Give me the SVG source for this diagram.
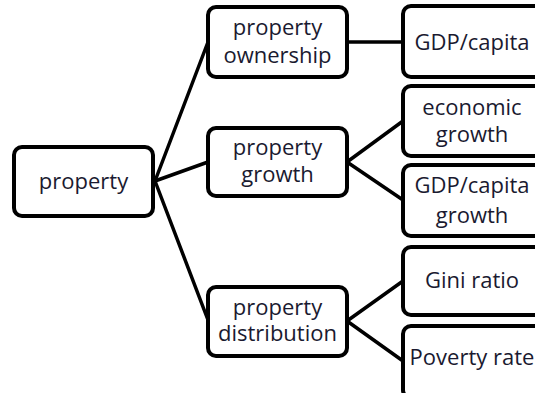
<svg xmlns="http://www.w3.org/2000/svg" width="535" height="393" viewBox="0 0 535 393">
<style>
.box{fill:#ffffff;stroke:#000000;stroke-width:4}
.lbl{font-family:"Open Sans","Liberation Sans",sans-serif;font-size:22px;fill:#1a1a30;text-anchor:middle}
.conn line{stroke:#000000;stroke-width:3.5;stroke-linecap:round}
</style>
<rect width="535" height="393" fill="#ffffff"/>
<g id="connectors" class="conn">
<line x1="155" y1="181" x2="208" y2="42"/>
<line x1="155" y1="181" x2="208" y2="162"/>
<line x1="155" y1="181" x2="208" y2="320"/>
<line x1="347" y1="42" x2="403" y2="42"/>
<line x1="347" y1="162" x2="403" y2="121"/>
<line x1="347" y1="162" x2="403" y2="200"/>
<line x1="347" y1="321" x2="403" y2="281"/>
<line x1="347" y1="321" x2="403" y2="361"/>
</g>
<g id="n-property">
<rect class="box" x="14" y="147" width="139" height="69" rx="8"/>
<text class="lbl" x="83.5" y="189">property</text>
</g>
<g id="n-ownership">
<rect class="box" x="208" y="7" width="139" height="70" rx="8"/>
<text class="lbl" x="277.5" y="35">property</text>
<text class="lbl" x="277.5" y="63">ownership</text>
</g>
<g id="n-growth">
<rect class="box" x="208" y="128" width="139" height="68" rx="8"/>
<text class="lbl" x="277.5" y="155">property</text>
<text class="lbl" x="277.5" y="182">growth</text>
</g>
<g id="n-distribution">
<rect class="box" x="208" y="287" width="139" height="69" rx="8"/>
<text class="lbl" x="277.5" y="315">property</text>
<text class="lbl" x="277.5" y="341">distribution</text>
</g>
<g id="n-gdp">
<rect class="box" x="403" y="6" width="140" height="71" rx="8"/>
<text class="lbl" x="472" y="50">GDP/capita</text>
</g>
<g id="n-econ">
<rect class="box" x="403" y="86" width="140" height="70" rx="8"/>
<text class="lbl" x="472" y="115">economic</text>
<text class="lbl" x="472" y="142">growth</text>
</g>
<g id="n-gdpgrowth">
<rect class="box" x="403" y="165" width="140" height="71" rx="8"/>
<text class="lbl" x="472" y="193">GDP/capita</text>
<text class="lbl" x="472" y="223">growth</text>
</g>
<g id="n-gini">
<rect class="box" x="403" y="247" width="140" height="68" rx="8"/>
<text class="lbl" x="472" y="288">Gini ratio</text>
</g>
<g id="n-poverty">
<rect class="box" x="403" y="326" width="140" height="72" rx="8"/>
<text class="lbl" x="472" y="365">Poverty rate</text>
</g>
</svg>
